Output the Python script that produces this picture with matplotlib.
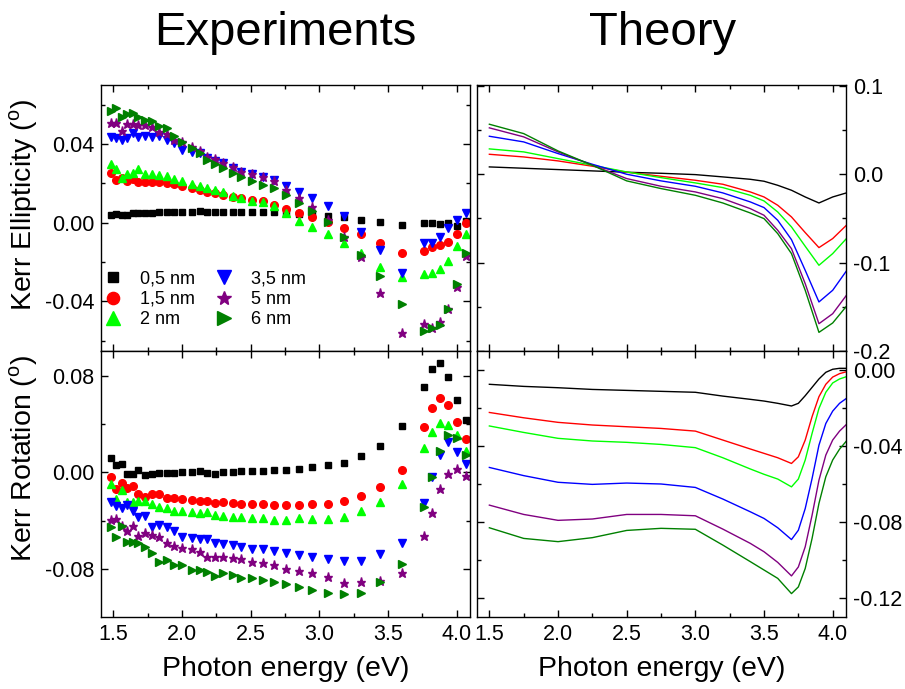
import matplotlib
matplotlib.use('Agg')
import matplotlib.pyplot as plt
from matplotlib.ticker import MultipleLocator, FormatStrFormatter

plt.rcParams['font.family'] = 'Liberation Sans'
plt.rcParams['axes.unicode_minus'] = False
plt.rcParams['mathtext.fontset'] = 'custom'
plt.rcParams['mathtext.rm'] = 'Liberation Sans'

# thicknesses of the films
labels = ['0,5 nm', '1,5 nm', '2 nm', '3,5 nm', '5 nm', '6 nm']
colors = ['black', 'red', '#00ff00', 'blue', 'purple', 'green']
markers = ['s', 'o', '^', 'v', '*', '>']
msizes = [4.5, 5.5, 6, 6, 6.5, 6]

# measured spectra (eV)
e_exp = [1.48, 1.52, 1.56, 1.60, 1.64, 1.68, 1.73, 1.78, 1.83, 1.89, 1.94, 2.00,
         2.07, 2.13, 2.18, 2.24, 2.30, 2.37, 2.43, 2.51, 2.59, 2.67, 2.76, 2.85,
         2.95, 3.06, 3.18, 3.30, 3.44, 3.60, 3.76, 3.82, 3.88, 3.94, 4.00, 4.07]

ell_05 = [0.0041, 0.0044, 0.0041, 0.0041, 0.0048, 0.0051, 0.0051, 0.0051, 0.0053, 0.0054, 0.0054, 0.0053,
          0.0056, 0.0058, 0.0056, 0.0053, 0.0053, 0.0053, 0.0053, 0.0054, 0.0054, 0.0054, 0.0050, 0.0043,
          0.0045, 0.0034, 0.0031, 0.0014, 0.0005, -0.0013, 0.0000, -0.0003, -0.0008, 0.0000, -0.0015, 0.0010]
ell_15 = [0.0252, 0.0218, 0.0226, 0.0214, 0.0221, 0.0209, 0.0206, 0.0206, 0.0206, 0.0204, 0.0197, 0.0187,
          0.0175, 0.0167, 0.0158, 0.0153, 0.0140, 0.0129, 0.0124, 0.0118, 0.0110, 0.0092, 0.0071, 0.0048,
          0.0031, 0.0005, -0.0025, -0.0057, -0.0102, -0.0152, -0.0145, -0.0125, -0.0113, -0.0100, -0.0056, -0.0003]
ell_2 = [0.0300, 0.0274, 0.0226, 0.0248, 0.0255, 0.0272, 0.0248, 0.0247, 0.0243, 0.0235, 0.0223, 0.0213,
         0.0197, 0.0187, 0.0179, 0.0167, 0.0157, 0.0136, 0.0124, 0.0111, 0.0106, 0.0087, 0.0048, 0.0010,
         -0.0020, -0.0057, -0.0102, -0.0152, -0.0224, -0.0274, -0.0262, -0.0254, -0.0233, -0.0195, -0.0118, -0.0057]
ell_35 = [0.0437, 0.0432, 0.0420, 0.0432, 0.0454, 0.0437, 0.0440, 0.0437, 0.0442, 0.0420, 0.0403, 0.0369,
          0.0361, 0.0352, 0.0327, 0.0315, 0.0302, 0.0276, 0.0259, 0.0247, 0.0234, 0.0217, 0.0187, 0.0154,
          0.0124, 0.0085, 0.0034, -0.0046, -0.0139, -0.0257, -0.0105, -0.0105, -0.0074, -0.0029, 0.0014, 0.0051]
ell_5 = [0.0508, 0.0505, 0.0468, 0.0501, 0.0501, 0.0498, 0.0496, 0.0488, 0.0459, 0.0449, 0.0420, 0.0408,
         0.0386, 0.0366, 0.0335, 0.0322, 0.0305, 0.0281, 0.0259, 0.0247, 0.0234, 0.0213, 0.0166, 0.0124,
         0.0078, 0.0014, -0.0074, -0.0176, -0.0356, -0.0559, -0.0516, -0.0533, -0.0503, -0.0440, -0.0325, -0.0169]
ell_6 = [0.0569, 0.0581, 0.0539, 0.0551, 0.0556, 0.0539, 0.0522, 0.0518, 0.0491, 0.0480, 0.0440, 0.0408,
         0.0378, 0.0352, 0.0319, 0.0298, 0.0276, 0.0251, 0.0231, 0.0213, 0.0193, 0.0178, 0.0140, 0.0102,
         0.0061, 0.0005, -0.0074, -0.0164, -0.0271, -0.0415, -0.0548, -0.0533, -0.0520, -0.0438, -0.0311, -0.0155]

rot_05 = [0.0116, 0.0061, 0.0071, -0.0014, -0.0014, 0.0022, -0.0025, -0.0014, -0.0003, -0.0008, -0.0008, 0.0002,
          0.0002, 0.0008, -0.0003, -0.0011, 0.0002, 0.0002, 0.0008, 0.0014, 0.0014, 0.0019, 0.0019, 0.0027,
          0.0044, 0.0060, 0.0074, 0.0132, 0.0220, 0.0386, 0.0703, 0.0854, 0.0901, 0.0786, 0.0598, 0.0430]
rot_15 = [-0.0036, -0.0136, -0.0086, -0.0127, -0.0113, -0.0179, -0.0207, -0.0182, -0.0182, -0.0215, -0.0215, -0.0223,
          -0.0229, -0.0240, -0.0240, -0.0251, -0.0243, -0.0257, -0.0265, -0.0265, -0.0262, -0.0273, -0.0270, -0.0270,
          -0.0262, -0.0260, -0.0240, -0.0198, -0.0119, 0.0017, 0.0377, 0.0529, 0.0612, 0.0557, 0.0419, 0.0273]
rot_2 = [-0.0099, -0.0223, -0.0146, -0.0246, -0.0243, -0.0237, -0.0235, -0.0262, -0.0290, -0.0293, -0.0318, -0.0318,
         -0.0328, -0.0334, -0.0328, -0.0351, -0.0359, -0.0367, -0.0370, -0.0380, -0.0375, -0.0394, -0.0397, -0.0380,
         -0.0383, -0.0383, -0.0370, -0.0323, -0.0243, -0.0099, 0.0198, 0.0336, 0.0405, 0.0391, 0.0309, 0.0179]
rot_35 = [-0.0243, -0.0279, -0.0293, -0.0270, -0.0318, -0.0372, -0.0361, -0.0450, -0.0436, -0.0450, -0.0483, -0.0533,
          -0.0541, -0.0554, -0.0554, -0.0587, -0.0593, -0.0599, -0.0620, -0.0632, -0.0637, -0.0648, -0.0665, -0.0684,
          -0.0703, -0.0717, -0.0734, -0.0734, -0.0678, -0.0587, -0.0250, -0.0036, 0.0140, 0.0253, 0.0168, 0.0070]
rot_5 = [-0.0394, -0.0386, -0.0442, -0.0485, -0.0442, -0.0525, -0.0500, -0.0518, -0.0535, -0.0582, -0.0612, -0.0629,
         -0.0634, -0.0662, -0.0700, -0.0700, -0.0698, -0.0711, -0.0720, -0.0739, -0.0753, -0.0767, -0.0800, -0.0814,
         -0.0830, -0.0863, -0.0913, -0.0910, -0.0896, -0.0830, -0.0527, -0.0334, -0.0138, -0.0017, 0.0025, -0.0031]
rot_6 = [-0.0450, -0.0533, -0.0442, -0.0574, -0.0579, -0.0587, -0.0615, -0.0665, -0.0739, -0.0725, -0.0767, -0.0767,
         -0.0810, -0.0810, -0.0822, -0.0860, -0.0833, -0.0847, -0.0872, -0.0872, -0.0891, -0.0905, -0.0926, -0.0951,
         -0.0973, -0.0998, -0.1006, -0.0996, -0.0905, -0.0761, -0.0285, -0.0036, 0.0176, 0.0309, 0.0287, 0.0143]

# calculated spectra
e_th_ell = [1.5, 1.75, 2.0, 2.25, 2.5, 2.75, 3.0, 3.2, 3.4, 3.5, 3.6, 3.7, 3.8, 3.9, 4.0, 4.1]

th_ell_05 = [0.0083, 0.0068, 0.0053, 0.0038, 0.0023, 0.0011, -0.0004, -0.0030, -0.0057, -0.0079, -0.0125, -0.0181, -0.0257, -0.0325, -0.0257, -0.0211]
th_ell_15 = [0.0226, 0.0196, 0.0151, 0.0091, 0.0023, -0.0023, -0.0068, -0.0113, -0.0200, -0.0257, -0.0351, -0.0483, -0.0660, -0.0830, -0.0728, -0.0577]
th_ell_2 = [0.0287, 0.0253, 0.0177, 0.0102, 0.0026, -0.0038, -0.0098, -0.0151, -0.0238, -0.0302, -0.0427, -0.0596, -0.0815, -0.1030, -0.0898, -0.0728]
th_ell_35 = [0.0430, 0.0366, 0.0234, 0.0113, 0.0000, -0.0075, -0.0136, -0.0211, -0.0313, -0.0377, -0.0521, -0.0740, -0.1087, -0.1445, -0.1313, -0.1094]
th_ell_5 = [0.0525, 0.0423, 0.0253, 0.0102, -0.0049, -0.0136, -0.0200, -0.0276, -0.0389, -0.0464, -0.0634, -0.0842, -0.1238, -0.1691, -0.1578, -0.1370]
th_ell_6 = [0.0566, 0.0460, 0.0264, 0.0102, -0.0075, -0.0162, -0.0238, -0.0325, -0.0438, -0.0502, -0.0672, -0.0898, -0.1313, -0.1789, -0.1683, -0.1494]

e_th_rot = [1.5, 1.75, 2.0, 2.25, 2.5, 2.75, 3.0, 3.2, 3.4, 3.5, 3.6, 3.7, 3.75, 3.8, 3.85, 3.9, 3.95, 4.0, 4.05, 4.1]

th_rot_05 = [-0.0075, -0.0086, -0.0093, -0.0102, -0.0107, -0.0112, -0.0117, -0.0137, -0.0154, -0.0163,
             -0.0175, -0.0189, -0.0175, -0.0135, -0.0091, -0.0047, -0.0012, 0.0004, 0.0009, 0.0009]
th_rot_15 = [-0.0223, -0.0251, -0.0275, -0.0289, -0.0298, -0.0307, -0.0321, -0.0368, -0.0415, -0.0438,
             -0.0461, -0.0491, -0.0456, -0.0368, -0.0245, -0.0140, -0.0075, -0.0037, -0.0019, -0.0009]
th_rot_2 = [-0.0294, -0.0328, -0.0359, -0.0373, -0.0380, -0.0391, -0.0408, -0.0461, -0.0520, -0.0548,
            -0.0573, -0.0614, -0.0573, -0.0473, -0.0333, -0.0202, -0.0117, -0.0068, -0.0047, -0.0035]
th_rot_35 = [-0.0512, -0.0555, -0.0590, -0.0601, -0.0594, -0.0599, -0.0617, -0.0678, -0.0745, -0.0780,
             -0.0829, -0.0891, -0.0842, -0.0728, -0.0570, -0.0395, -0.0281, -0.0216, -0.0175, -0.0149]
th_rot_5 = [-0.0710, -0.0759, -0.0790, -0.0783, -0.0759, -0.0759, -0.0766, -0.0836, -0.0911, -0.0955,
            -0.1011, -0.1082, -0.1035, -0.0929, -0.0763, -0.0579, -0.0447, -0.0368, -0.0321, -0.0286]
th_rot_6 = [-0.0829, -0.0885, -0.0902, -0.0881, -0.0843, -0.0832, -0.0837, -0.0920, -0.1007, -0.1051,
            -0.1095, -0.1175, -0.1140, -0.1043, -0.0885, -0.0701, -0.0561, -0.0473, -0.0416, -0.0373]

exp_ell = [ell_05, ell_15, ell_2, ell_35, ell_5, ell_6]
exp_rot = [rot_05, rot_15, rot_2, rot_35, rot_5, rot_6]
th_ell = [th_ell_05, th_ell_15, th_ell_2, th_ell_35, th_ell_5, th_ell_6]
th_rot = [th_rot_05, th_rot_15, th_rot_2, th_rot_35, th_rot_5, th_rot_6]


def setup_axes(ax, ylim, major, minor, fmt, right=False, xlabels=False):
    ax.set_xlim(1.41, 4.097)
    ax.set_ylim(*ylim)
    ax.xaxis.set_major_locator(MultipleLocator(0.5))
    ax.xaxis.set_minor_locator(MultipleLocator(0.25))
    ax.xaxis.set_major_formatter(FormatStrFormatter('%.1f'))
    ax.yaxis.set_major_locator(MultipleLocator(major))
    ax.yaxis.set_minor_locator(MultipleLocator(minor))
    ax.yaxis.set_major_formatter(FormatStrFormatter(fmt))
    ax.tick_params(which='both', direction='in', top=True, bottom=True,
                   left=True, right=True, labelsize=15.5, width=1)
    ax.tick_params(which='major', length=5, pad=5)
    ax.tick_params(which='minor', length=3)
    ax.tick_params(labelleft=not right, labelright=right, labelbottom=xlabels)
    for s in ax.spines.values():
        s.set_linewidth(1.0)
    if xlabels:
        ax.set_xlabel('Photon energy (eV)', fontsize=20.5, labelpad=8)


fig = plt.figure(figsize=(9.05, 6.89), dpi=100)
W, H = 905.0, 689.0
ax_ee = fig.add_axes([101 / W, 1 - 351 / H, 369 / W, 266 / H])
ax_er = fig.add_axes([101 / W, 1 - 617 / H, 369 / W, 266 / H])
ax_te = fig.add_axes([477 / W, 1 - 351 / H, 369 / W, 266 / H])
ax_tr = fig.add_axes([477 / W, 1 - 617 / H, 369 / W, 266 / H])

for i in range(6):
    ax_ee.plot(e_exp, exp_ell[i], linestyle='none', marker=markers[i], ms=msizes[i],
               color=colors[i], mec=colors[i], label=labels[i])
    ax_er.plot(e_exp, exp_rot[i], linestyle='none', marker=markers[i], ms=msizes[i],
               color=colors[i], mec=colors[i])
    ax_te.plot(e_th_ell, th_ell[i], color=colors[i], lw=1.0)
    ax_tr.plot(e_th_rot, th_rot[i], color=colors[i], lw=1.0)

setup_axes(ax_ee, (-0.0652, 0.07), 0.04, 0.02, '%.2f')
setup_axes(ax_er, (-0.1197, 0.1004), 0.08, 0.04, '%.2f', xlabels=True)
setup_axes(ax_te, (-0.2, 0.101), 0.1, 0.05, '%.1f', right=True)
setup_axes(ax_tr, (-0.1298, 0.01), 0.04, 0.02, '%.2f', right=True, xlabels=True)

ax_ee.legend(ncol=2, loc='lower left', bbox_to_anchor=(-0.04, 0.025), frameon=False,
             fontsize=13, markerscale=1.6, handletextpad=0.9, columnspacing=1.0,
             labelspacing=0.18, handlelength=1.2)

fig.text(24 / W, 1 - 205 / H, r'Kerr Ellipticity ($^{\rm o}$)', rotation=90,
         ha='center', va='center', fontsize=20.5)
fig.text(24 / W, 1 - 458 / H, r'Kerr Rotation ($^{\rm o}$)', rotation=90,
         ha='center', va='center', fontsize=20.5)

fig.text(285 / W, 1 - 33 / H, 'Experiments', ha='center', va='center', fontsize=34)
fig.text(663 / W, 1 - 33 / H, 'Theory', ha='center', va='center', fontsize=34)

fig.savefig('out.png', dpi=100)
